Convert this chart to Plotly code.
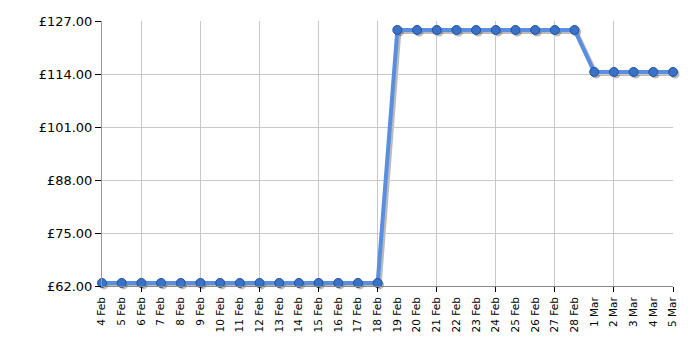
import plotly.graph_objects as go

dates = ["4 Feb", "5 Feb", "6 Feb", "7 Feb", "8 Feb", "9 Feb", "10 Feb", "11 Feb", "12 Feb",
         "13 Feb", "14 Feb", "15 Feb", "16 Feb", "17 Feb", "18 Feb", "19 Feb", "20 Feb",
         "21 Feb", "22 Feb", "23 Feb", "24 Feb", "25 Feb", "26 Feb", "27 Feb", "28 Feb",
         "1 Mar", "2 Mar", "3 Mar", "4 Mar", "5 Mar"]
prices = [62.75] * 15 + [124.8] * 10 + [114.5] * 5
y_ticks = [62, 75, 88, 101, 114, 127]
y_labels = ["£62.00", "£75.00", "£88.00", "£101.00", "£114.00", "£127.00"]

idx = list(range(len(dates)))
grid_idx = [i for i in idx if (len(dates) - 1 - i) % 3 == 0]

W, H = 700, 350
L, R, T, B = 102, 25, 21, 62
pw, ph = W - L - R, H - T - B
dx, dy = 2 / pw, 2 / ph

fig = go.Figure()
# shadow trace on its own hidden subplot, offset by 2px right/down, drawn underneath
fig.add_trace(go.Scatter(
    x=idx, y=prices, mode="lines+markers",
    line=dict(color="rgba(60,60,60,0.35)", width=4),
    marker=dict(size=9, color="rgba(60,60,60,0.35)"),
    cliponaxis=False, hoverinfo="skip", showlegend=False))
fig.add_trace(go.Scatter(
    x=idx, y=prices, xaxis="x2", yaxis="y2", mode="lines+markers",
    line=dict(color="#5a8fe0", width=4),
    marker=dict(size=9, color="#3a72c8", line=dict(color="#24529a", width=1)),
    cliponaxis=False, showlegend=False))

fig.update_layout(
    width=W, height=H, margin=dict(l=L, r=R, t=T, b=B, autoexpand=False),
    paper_bgcolor="white", plot_bgcolor="rgba(0,0,0,0)",
    font=dict(family="DejaVu Sans", color="#000"),
    xaxis=dict(range=[0, len(dates) - 1], visible=False, domain=[dx, 1], anchor="y",
               automargin=False),
    yaxis=dict(range=[62, 127], visible=False, domain=[0, 1 - dy], anchor="x",
               automargin=False),
    xaxis2=dict(range=[0, len(dates) - 1], anchor="y2", automargin=False,
                tickvals=idx, ticktext=dates, tickangle=-90,
                tickfont=dict(size=10.5, color="#000"), ticks="outside", ticklen=6,
                tickcolor="rgba(0,0,0,0)", showgrid=False,
                zeroline=False, showline=True, linecolor="#888", linewidth=1,
                domain=[0, 1 - dx],
                minor=dict(tickvals=grid_idx, ticks="outside", ticklen=5, tickcolor="#000",
                           showgrid=True, gridcolor="#c8c8c8", gridwidth=1)),
    yaxis2=dict(range=[62, 127], anchor="x2", automargin=False,
                tickvals=y_ticks, ticktext=y_labels,
                tickfont=dict(size=13, color="#000"), ticks="outside", ticklen=6,
                tickcolor="#000", showgrid=True, gridcolor="#c8c8c8", zeroline=False,
                showline=True, linecolor="#999", linewidth=1, domain=[dy, 1]),
)
fig.write_html("out.html")
